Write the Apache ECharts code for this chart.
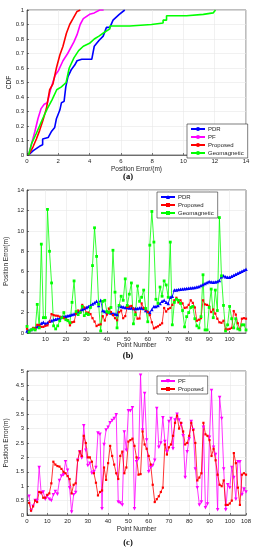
<!DOCTYPE html>
<html><head><meta charset="utf-8">
<script src="https://cdn.jsdelivr.net/npm/echarts@6/dist/echarts.min.js"></script>
<style>html,body{margin:0;padding:0;background:#fff}#c{width:256px;height:550px}</style>
</head><body><div id="c"></div>
<script>
// (a) CDF curves: [position error, CDF]
const cdfPDR = [[0.1,0],[0.4,0.03],[0.8,0.06],[1.0,0.07],[1.0,0.11],[1.35,0.12],[1.55,0.16],[1.77,0.19],[1.88,0.25],[2.1,0.31],[2.2,0.36],[2.37,0.37],[2.48,0.47],[2.62,0.54],[2.84,0.59],[3.05,0.62],[3.2,0.65],[3.5,0.66],[4.14,0.66],[4.3,0.75],[4.6,0.79],[4.87,0.82],[5.08,0.88],[5.3,0.88],[5.5,0.93],[5.9,0.97],[6.25,1.0]];
const cdfPF = [[0.1,0],[0.3,0.08],[0.5,0.16],[0.7,0.25],[0.9,0.32],[1.1,0.35],[1.3,0.36],[1.5,0.45],[1.8,0.55],[2.0,0.58],[2.3,0.65],[2.6,0.7],[3.0,0.78],[3.2,0.83],[3.4,0.9],[3.6,0.94],[4.0,0.97],[4.3,0.98],[4.65,1.0],[4.9,1.0]];
const cdfProposed = [[0.1,0],[0.17,0.01],[0.38,0.055],[0.6,0.11],[0.81,0.17],[1.02,0.24],[1.24,0.32],[1.45,0.45],[1.66,0.49],[1.88,0.6],[2.1,0.69],[2.3,0.75],[2.52,0.84],[2.73,0.9],[2.94,0.94],[3.2,0.99],[3.27,1.0],[3.41,1.0]];
const cdfGeo = [[0.1,0],[0.3,0.08],[0.6,0.15],[1.0,0.25],[1.3,0.32],[1.6,0.38],[1.9,0.45],[2.2,0.47],[2.5,0.5],[2.7,0.6],[3.0,0.67],[3.3,0.72],[3.6,0.75],[4.0,0.77],[4.3,0.8],[4.6,0.82],[5.0,0.85],[5.3,0.87],[5.3,0.89],[6.57,0.89],[6.57,0.9],[7.96,0.9],[7.96,0.91],[8.7,0.91],[8.7,0.93],[8.92,0.93],[8.92,0.96],[10.2,0.96],[10.2,0.97],[11.27,0.97],[11.27,0.98],[11.9,0.98],[12.05,1.0]];

// (b) and (c) per-point errors, point numbers 1..108
const pdr = [0.2,0.25,0.35,0.45,0.5,0.6,0.75,0.95,1.05,0.9,
1.0,1.15,1.2,1.3,1.35,1.4,1.45,1.55,1.6,1.65,
1.7,1.75,1.8,1.85,1.95,2.05,2.15,2.3,2.4,2.5,
2.6,2.7,2.85,2.95,3.1,2.7,3.2,2.2,2.1,2.05,
2.0,1.95,1.9,1.85,1.8,2.7,2.6,2.55,2.5,2.5,
2.45,2.45,2.4,2.4,2.4,2.45,2.45,2.4,2.2,2.1,
2.0,2.3,2.6,2.6,2.7,2.9,3.1,3.2,3.0,2.9,
3.5,3.6,4.2,4.22,4.25,4.28,4.3,4.32,4.35,4.38,
4.4,4.42,4.45,4.5,4.55,4.65,4.75,4.85,4.95,5.05,
5.0,4.98,5.0,5.05,5.15,5.5,5.6,5.5,5.45,5.45,
5.55,5.65,5.75,5.85,5.95,6.05,6.15,6.25];
const proposed = [0.42,0.15,0.3,0.5,0.45,0.8,0.78,0.6,0.6,0.7,
0.75,1.1,1.85,1.75,1.7,1.68,1.6,1.5,1.45,1.35,
1.25,0.75,1.05,1.1,1.9,2.2,2.05,2.75,2.5,2.0,
2.0,1.85,1.45,1.12,0.68,0.8,0.85,1.65,1.22,1.8,
2.4,2.05,1.75,1.45,1.25,2.05,2.2,1.45,1.65,2.55,
2.6,2.65,2.4,2.0,1.4,1.42,2.9,2.45,2.3,2.05,
1.75,1.05,0.45,0.55,0.65,0.8,0.95,2.45,2.1,2.35,
2.45,2.75,3.2,3.45,3.0,3.2,2.9,2.45,2.5,2.75,
3.2,2.95,2.5,1.2,1.3,1.45,3.2,2.8,2.75,2.6,
2.05,2.3,1.9,1.4,1.05,1.0,1.2,0.35,0.35,0.4,
0.5,2.15,1.8,0.95,0.35,1.4,1.45,1.4];
const geomagnetic = [0.65,0.1,0.3,0.4,0.3,2.8,0.5,8.7,1.5,1.5,
12.1,8.0,4.9,0.7,0.4,0.7,1.2,1.5,2.0,1.3,
1.2,1.0,3.0,5.1,2.1,1.8,2.0,2.6,1.7,1.9,
1.8,2.5,6.6,10.3,7.5,2.8,0.2,3.1,3.2,2.1,
2.0,2.5,8.1,4.0,0.5,2.7,3.6,3.2,5.3,2.7,
3.8,4.9,0.9,1.8,4.6,3.1,3.5,4.2,2.4,1.1,
8.6,11.9,8.9,3.3,2.9,4.5,3.6,5.1,4.7,3.5,
8.9,0.8,3.0,3.3,3.2,2.9,2.2,0.6,1.6,2.0,
2.5,2.6,1.4,0.7,0.5,1.6,5.7,0.3,0.3,2.5,
4.3,1.5,4.2,2.2,11.3,5.6,2.7,0.2,0.8,2.6,
1.4,0.5,1.4,0.4,0.3,0.8,0.8,0.3];
const pf = [0.65,0.15,0.3,0.5,0.5,1.65,0.75,0.8,0.55,0.65,
0.55,0.5,0.7,0.82,0.72,1.2,1.35,1.4,1.85,1.55,
0.95,0.1,0.7,0.78,1.9,2.2,1.98,3.1,2.25,1.72,
1.8,1.45,1.5,1.65,2.85,2.8,0.22,2.45,2.95,3.05,
3.2,3.28,3.35,3.48,0.45,0.42,0.35,2.88,2.25,3.62,
3.62,3.72,0.22,1.85,1.95,4.85,2.95,4.22,2.6,1.5,
1.65,1.72,1.9,3.7,2.35,2.5,3.38,2.55,2.2,3.25,
3.35,2.3,3.3,3.5,3.3,3.15,2.75,1.3,2.2,2.65,
3.25,2.95,1.6,0.95,0.35,0.45,3.05,0.25,0.38,2.7,
4.32,2.35,2.1,0.18,4.08,3.35,1.6,0.18,1.05,0.95,
1.65,1.3,0.55,1.85,1.85,0.7,0.9,0.8];

// tick labels
const ticksAX = [0,2,4,6,8,10,12,14];
const ticksAY = [0,0.1,0.2,0.3,0.4,0.5,0.6,0.7,0.8,0.9,1];
const ticksBX = [10,20,30,40,50,60,70,80,90,100];
const ticksBY = [0,2,4,6,8,10,12,14];
const ticksCX = [0,10,20,30,40,50,60,70,80,90,100,108];
const ticksCY = [0,0.5,1,1.5,2,2.5,3,3.5,4,4.5,5];

const toPts = arr => arr.map((v,i)=>[i+1,v]);
const FONT = 'Liberation Sans';
const TXT = '#262626';
const lbl = {fontFamily:FONT,fontSize:6,color:TXT,margin:3};
const nameStyle = {fontFamily:FONT,fontSize:6.5,color:TXT};
const split = {show:true,lineStyle:{color:'#e8e8e8',width:0.6}};
const axLine = {show:true,lineStyle:{color:TXT,width:0.6}};
const tick = {show:true,inside:true,length:2,lineStyle:{color:TXT,width:0.6}};

function ax(gi,min,max,ticks,name,gap){
  return {type:'value',gridIndex:gi,min:min,max:max,name:name,nameLocation:'middle',nameGap:gap,nameMoveOverlap:false,nameTextStyle:nameStyle,
    axisLabel:Object.assign({customValues:ticks},lbl),axisTick:Object.assign({customValues:ticks},tick),
    splitLine:split,axisLine:axLine};
}
const legendBase = {orient:'vertical',backgroundColor:'#fff',borderColor:TXT,borderWidth:0.6,borderRadius:0,
  itemWidth:14,itemHeight:5,itemGap:2,padding:[2,4,2,3],
  textStyle:{fontFamily:FONT,fontSize:6,color:TXT,padding:[0,0,0,-2]},
  formatter:n=>n.split(':').pop()};
const gridBase = {show:true,borderColor:TXT,borderWidth:0.6,containLabel:false,outerBoundsMode:'none'};

const chart = echarts.init(document.getElementById('c'),null,{renderer:'canvas'});
chart.setOption({
  animation:false,
  backgroundColor:'#fff',
  grid:[
    Object.assign({left:27,top:10,width:219,height:145},gridBase),
    Object.assign({left:27,top:190,width:219,height:143},gridBase),
    Object.assign({left:27,top:371,width:219,height:144},gridBase)
  ],
  xAxis:[
    ax(0,0,14,ticksAX,'Position Error/(m)',11),
    ax(1,1,108,ticksBX,'Point Number',9),
    ax(2,0,108,ticksCX,'Point Number',11)
  ],
  yAxis:[
    ax(0,0,1,ticksAY,'CDF',14),
    ax(1,0,14,ticksBY,'Position Error(m)',17),
    ax(2,0,5,ticksCY,'Position Error(m)',17)
  ],
  legend:[
    Object.assign({},legendBase,{left:187,top:124,data:['a:PDR','a:PF','a:Proposed','a:Geomagnetic']}),
    Object.assign({},legendBase,{left:157,top:192,data:['b:PDR','b:Proposed','b:Geomagnetic']}),
    Object.assign({},legendBase,{left:157,top:376,data:['c:PF','c:Proposed']})
  ],
  series:[
    {name:'a:PDR',type:'line',xAxisIndex:0,yAxisIndex:0,data:cdfPDR,showSymbol:false,symbol:'none',lineStyle:{color:'#0000ff',width:1.6},itemStyle:{color:'#0000ff'}},
    {name:'a:PF',type:'line',xAxisIndex:0,yAxisIndex:0,data:cdfPF,showSymbol:false,symbol:'none',lineStyle:{color:'#ff00ff',width:1.6},itemStyle:{color:'#ff00ff'}},
    {name:'a:Proposed',type:'line',xAxisIndex:0,yAxisIndex:0,data:cdfProposed,showSymbol:false,symbol:'none',lineStyle:{color:'#ff0000',width:1.6},itemStyle:{color:'#ff0000'}},
    {name:'a:Geomagnetic',type:'line',xAxisIndex:0,yAxisIndex:0,data:cdfGeo,showSymbol:false,symbol:'none',lineStyle:{color:'#00ff00',width:1.6},itemStyle:{color:'#00ff00'}},

    {name:'b:PDR',type:'line',xAxisIndex:1,yAxisIndex:1,data:toPts(pdr),symbol:'triangle',symbolSize:3.5,lineStyle:{color:'#0000ff',width:0.8},itemStyle:{color:'#0000ff'}},
    {name:'b:Proposed',type:'line',xAxisIndex:1,yAxisIndex:1,data:toPts(proposed),symbol:'rect',symbolSize:2.2,lineStyle:{color:'#ff0000',width:0.8},itemStyle:{color:'#ff0000'}},
    {name:'b:Geomagnetic',type:'line',xAxisIndex:1,yAxisIndex:1,data:toPts(geomagnetic),symbol:'rect',symbolSize:2.8,lineStyle:{color:'#00ff00',width:0.8},itemStyle:{color:'#00ff00'}},

    {name:'c:PF',type:'line',xAxisIndex:2,yAxisIndex:2,data:toPts(pf),symbol:'triangle',symbolRotate:180,symbolSize:3.5,lineStyle:{color:'#ff00ff',width:0.8},itemStyle:{color:'#ff00ff'}},
    {name:'c:Proposed',type:'line',xAxisIndex:2,yAxisIndex:2,data:toPts(proposed),symbol:'rect',symbolSize:2.2,lineStyle:{color:'#ff0000',width:0.8},itemStyle:{color:'#ff0000'}}
  ],
  graphic:[
    {type:'text',left:'center',top:172,style:{text:'(a)',font:'bold 8.5px "Liberation Serif"',fill:'#000'}},
    {type:'text',left:'center',top:351,style:{text:'(b)',font:'bold 8.5px "Liberation Serif"',fill:'#000'}},
    {type:'text',left:'center',top:538,style:{text:'(c)',font:'bold 8.5px "Liberation Serif"',fill:'#000'}}
  ]
});
</script></body></html>
